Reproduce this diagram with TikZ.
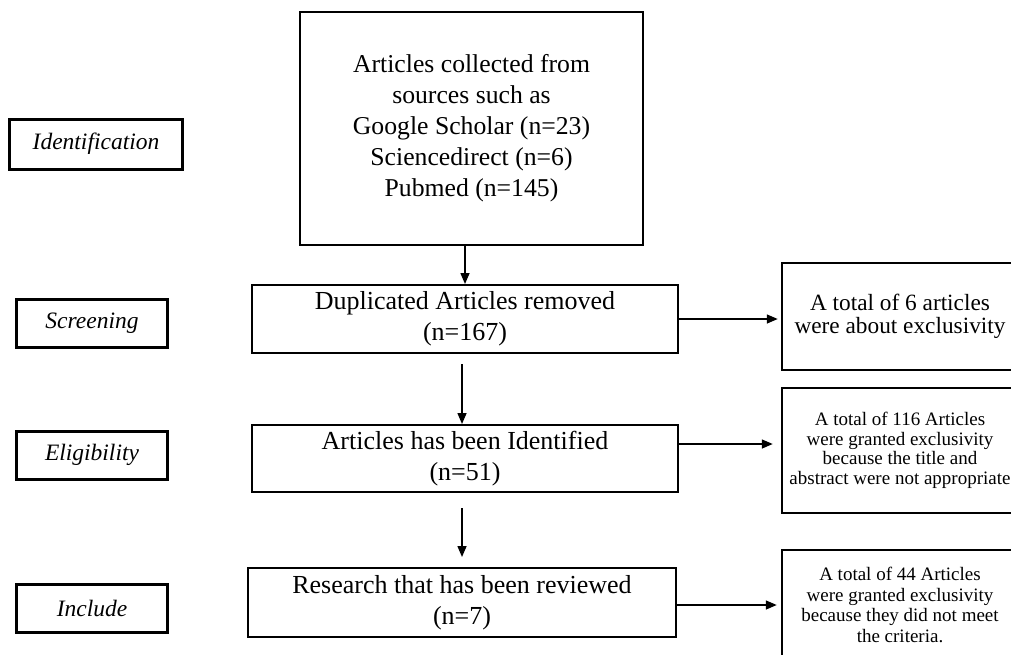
\documentclass[tikz,border=0pt]{standalone}
\usepackage{fontspec}
\setmainfont{Liberation Serif}
\usetikzlibrary{arrows.meta}
\begin{document}
\begin{tikzpicture}[x=1pt,y=-1pt,
 lbl/.style={draw, line width=3pt, minimum width=151pt, minimum height=48pt, inner sep=0pt, font=\fontsize{23.5}{28}\selectfont\itshape},
 mid/.style={draw, line width=2pt, minimum width=426pt, inner sep=0pt, align=center, font=\fontsize{26}{31}\selectfont},
 side/.style={draw, line width=2.5pt, minimum width=236pt, inner sep=0pt, align=center},
 arr/.style={line width=1.5pt, -{Triangle[length=11pt,width=9pt]}}]
\clip (0,0) rectangle (1011,654);
\fill[white] (0,0) rectangle (1011,654);
% stage labels
\node[lbl, minimum width=173pt, minimum height=50pt] (id) at (96,144) {Identification};
\node[lbl] (sc) at (92,323) {Screening};
\node[lbl] (el) at (92,455) {Eligibility};
\node[lbl] (in) at (92,608.5) {Include};
% top box
\node[draw, line width=1.8pt, minimum width=343pt, minimum height=233pt, inner sep=0pt, align=center, font=\fontsize{25.7}{31}\selectfont] (src) at (471.5,128.5) {Articles collected from\\sources such as\\Google Scholar (n=23)\\Sciencedirect (n=6)\\Pubmed (n=145)};
% middle boxes
\node[mid, minimum height=68pt] (dup) at (465,319) {Duplicated Articles removed\\(n=167)};
\node[mid, minimum height=67pt] (ide) at (465,458.5) {Articles has been Identified\\(n=51)};
\node[mid, minimum width=428pt, minimum height=69pt] (rev) at (462,602.5) {Research that has been reviewed\\(n=7)};
% side boxes
\node[side, minimum height=107pt, font=\fontsize{23.3}{23}\selectfont] (ex1) at (900,316.5) {A total of 6 articles\\were about exclusivity};
\node[side, minimum height=125pt, font=\fontsize{19}{19.5}\selectfont] (ex2) at (900,450.5) {A total of 116 Articles\\were granted exclusivity\\because the title and\\abstract were not appropriate};
\node[side, minimum height=110pt, font=\fontsize{19}{20.5}\selectfont] (ex3) at (900,605) {A total of 44 Articles\\were granted exclusivity\\because they did not meet\\the criteria.};
% arrow anchor points
\coordinate (a2) at ([yshift=14.5pt]ide.east);
\coordinate (a3) at ([yshift=-2.5pt]rev.east);
% vertical arrows
\draw[arr] ([xshift=-6.5pt]src.south) -- ([xshift=-6.5pt]src.south |- dup.north);
\draw[arr, shorten <=10pt] ([xshift=-3pt]dup.south) -- ([xshift=-3pt]dup.south |- ide.north);
\draw[arr, shorten <=15pt, shorten >=10pt] (ide.south -| rev.north) -- (rev.north);
% horizontal arrows
\draw[arr, shorten >=3pt] (dup.east) -- (ex1.west |- dup.east);
\draw[arr, shorten >=8pt] (a2) -- (ex2.west |- a2);
\draw[arr, shorten >=4pt] (a3) -- (ex3.west |- a3);
\end{tikzpicture}
\end{document}
